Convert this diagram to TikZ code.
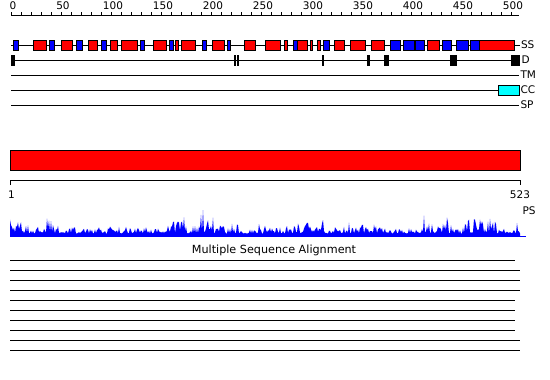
\documentclass[tikz,border=0pt]{standalone}
\usepackage{fontspec}
\setmainfont{DejaVu Sans}
\definecolor{fullred}{RGB}{255,0,0}
\definecolor{fullblue}{RGB}{0,0,255}
\definecolor{fullcyan}{RGB}{0,255,255}
\begin{document}
\begin{tikzpicture}[x=1pt,y=-1pt,line width=1pt,
  lab/.style={inner sep=0pt,font=\fontsize{10.5}{12}\selectfont},
  helix/.style={fill=fullred,draw=black,line width=0.9pt},
  strand/.style={fill=fullblue,draw=black,line width=0.9pt},
  dom/.style={fill=black},
  track/.style={draw=black,line width=1pt}]
\useasboundingbox (0,0) rectangle (550,380);
\fill[white] (0,0) rectangle (550,380);
% top ruler
\draw[track] (11,15) -- (519,15);
\foreach \u in {0,10,...,500} \draw[line width=0.9pt] ({11+\u},12) -- ({11+\u},15);
\foreach \u in {0,50,...,500} \node[lab] (rl\u) at ({13+\u},6) {\u};
% SS track
\draw[track] (11,45) -- (520,45);
\foreach \a/\b in {33.3/46,61.7/72.3,88.7/97.3,110.3/117.3,121.3/137.3,153.3/166.5,175.2/178.5,181.3/195.5,212.3/224.7,244.3/255.5,265.5/280.3,284.3/287.3,297/307.3,310/312.7,317.3/320,334.7/344.3,350.3/365.3,371.3/384.3,427.3/439.3,479/514.3}
  \draw[helix] (\a,40) rectangle (\b,50);
\foreach \a/\b in {13.3/18.3,49.3/54.3,76.7/82,101.3/106.3,140.7/144.3,169.3/173.5,202.3/206.5,227.3/230.7,293.7/297,323.3/329.7,390/400.3,403.3/414.3,415.5/424,442.3/451.7,456/468.3,470.3/479}
  \draw[strand] (\a,40) rectangle (\b,50);
\node[lab,anchor=west] (ss) at (520.5,45) {SS};
% D track
\draw[track] (11,60) -- (520,60);
\foreach \a/\b in {10.5/15.3,234.3/235.8,237.3/238.8,322.3/323.8,367/369.8,384.3/389.3,450/456.5,511.3/520}
  \fill[dom] (\a,55) rectangle (\b,65.7);
\node[lab,anchor=west] (d) at (521,60) {D};
% TM, CC, SP
\draw[track] (11,75) -- (519,75);
\node[lab,anchor=west] (tm) at (520,75) {TM};
\draw[track] (11,90) -- (498,90);
\draw[fill=fullcyan,draw=black,line width=0.9pt] (498,85) rectangle (519,95);
\node[lab,anchor=west] (cc) at (520,90) {CC};
\draw[track] (11,105) -- (519,105);
\node[lab,anchor=west] (sp) at (520,105) {SP};
% red bar
\draw[fill=fullred,draw=black,line width=1pt] (10.5,150.5) rectangle (520.5,170.5);
% bottom ruler
\draw[track] (10.5,185) -- (10.5,180.5) -- (520.5,180.5) -- (520.5,185);
\node[lab] (one) at (11.5,195) {1};
\node[lab] (end) at (520,195) {523};
\node[lab,anchor=west] (ps) at (522,211) {PS};
% profile
\pgfmathsetseed{11}
\fill[fullblue] (10,236)
  \foreach \a/\b/\h in {10/13/16,14/20/14,21/25/24,26/29/20,30/46/11,47/54/18,55/59/12,60/100/8,101/130/9,131/165/9,166/170/13,171/178/19,179/184/22,185/200/9,201/209/24,210/214/17,215/223/14,224/227/21,228/245/11,246/258/6,259/270/11,271/296/9,297/302/15,303/313/13,314/323/16,324/346/9,347/350/14,351/376/11,377/387/8,388/421/7,422/429/20,430/444/13,445/449/20,450/464/13,465/473/15,474/479/19,480/492/16,493/496/18,497/513/8,514/517/13,518/520/6}
  { \foreach \x in {\a,...,\b} { -- (\x,{236-(2.5+(1.1*\h-2.5)*rnd^1.6)}) } }
  -- (520,236) -- cycle;
\draw[fullblue,line width=1pt] (10,236) -- (526,236);
% MSA
\node[lab,font=\fontsize{11.2}{13}\selectfont] (msa) at (274,250) {Multiple Sequence Alignment};
\foreach \y/\e in {260/515,270/520,280/520,290/520,300/515,310/515,320/515,330/515,340/520,350/520}
  \draw[track] (10,\y) -- (\e,\y);
\end{tikzpicture}
\end{document}
